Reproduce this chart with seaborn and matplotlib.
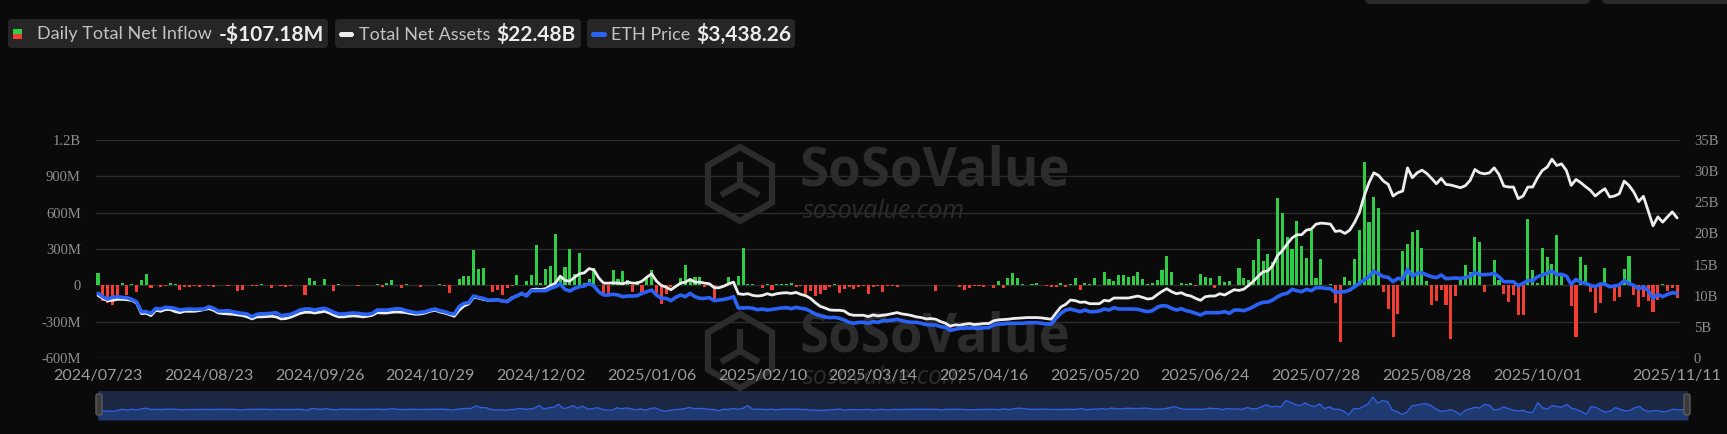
import numpy as np
import pandas as pd
import matplotlib
matplotlib.use("Agg")
import matplotlib.pyplot as plt
import seaborn as sns
from matplotlib.patches import FancyBboxPatch, RegularPolygon, Rectangle

# ---------------- DATA ----------------
START_DATE = "2024-07-23"
END_DATE = "2025-11-11"
MARKET_HOLIDAYS = ["2024-09-02", "2024-11-28", "2024-12-25", "2025-01-01", "2025-01-09",
                   "2025-01-20", "2025-02-17", "2025-04-18", "2025-05-26", "2025-06-19",
                   "2025-07-04", "2025-09-01"]

TICK_LABELS = ["2024/07/23", "2024/08/23", "2024/09/26", "2024/10/29", "2024/12/02",
               "2025/01/06", "2025/02/10", "2025/03/14", "2025/04/16", "2025/05/20",
               "2025/06/24", "2025/07/28", "2025/08/28", "2025/10/01", "2025/11/11"]

LEFT_TICKS = [-600, -300, 0, 300, 600, 900, 1200]
LEFT_LABELS = ["-600M", "-300M", "0", "300M", "600M", "900M", "1.2B"]
RIGHT_TICKS = [0, 5, 10, 15, 20, 25, 30, 35]
RIGHT_LABELS = ["0", "5B", "10B", "15B", "20B", "25B", "30B", "35B"]

# daily total net inflow, $M
NET_INFLOW = [
    99, -132, -146, -165, -99, 19, -77, 14, -55, 44,
    94, -22, 2, -16, -3, 19, 8, -38, -16, -16,
    -5, -16, 0, -6, -15, 0, 5, -3, 0, -47,
    -36, 2, -5, -5, 10, 0, -19, 0, -6, -15,
    -8, 3, 3, -77, 60, 38, 0, 55, 0, -50,
    14, 0, 5, 0, -5, 0, 3, 0, 14, -14,
    22, 47, 0, -19, 11, 0, 0, -14, 0, 3,
    3, 14, -8, -63, 0, 50, 77, 80, 294, 135,
    143, 0, -58, -36, -80, -25, -5, 85, 0, 36,
    88, 333, 22, 132, 162, 424, 66, 149, 303, 94,
    270, 19, 50, 143, 0, -63, -72, 127, 52, 116,
    41, -52, 38, -72, 72, 127, -77, -157, -69, -16,
    0, 58, 165, 47, 72, 72, -16, 0, -116, 5,
    0, 66, 5, 77, 308, 14, 8, 3, -19, 11,
    -38, 11, 11, 11, 19, -11, -3, -72, -50, -91,
    -69, -36, -16, 11, -63, -27, -16, -33, -16, -3,
    -72, -16, -3, -52, -8, -8, -16, 3, 2, 0,
    2, 3, 0, 2, -50, 0, 2, 0, 2, -11,
    -36, -22, -8, -8, -14, 0, -22, 38, -22, 60,
    102, 60, 14, 0, 8, 16, 0, -8, -16, -11,
    16, -16, 14, 63, -38, 19, 14, 63, 0, 107,
    52, 36, 82, 88, 66, 77, 107, 55, 11, 22,
    47, 124, 239, 110, 0, 16, 11, 19, -8, 96,
    72, 58, -25, 77, 30, 33, 0, 146, 60, 41,
    209, 382, 204, 256, 190, 723, 600, 402, 297, 534,
    327, 228, 454, 63, 217, 5, 8, -149, -465, 72,
    33, 217, 459, 1018, 520, 726, 638, -58, -195, -429,
    -237, 286, 338, 443, 454, 308, 39, -162, -132, -36,
    -165, -446, -91, 41, 165, 110, 402, 358, -58, 0,
    206, 47, -72, -138, -77, -245, -245, 545, 124, 20,
    305, 231, 179, 418, 88, 0, -173, -429, 231, 168,
    -58, -228, -146, 140, 3, -127, -94, 132, 245, -80,
    -182, -99, -132, -217, -118, 11, -44, -20, -107.18,
]

# total net assets, $B
NET_ASSETS = [
    10.05, 9.57, 9.20, 9.26, 9.41, 9.41, 9.36, 9.26, 8.83, 7.13,
    7.18, 6.81, 7.66, 7.50, 7.77, 7.77, 7.45, 7.29, 7.50, 7.50,
    7.50, 7.61, 7.77, 7.93, 7.66, 7.23, 7.13, 7.07, 7.02, 6.91,
    6.81, 6.60, 6.28, 6.60, 6.60, 6.65, 6.70, 6.60, 6.28, 6.33,
    6.54, 6.86, 7.18, 7.34, 7.34, 7.23, 7.34, 7.50, 7.23, 6.86,
    6.60, 6.60, 6.70, 6.76, 6.70, 6.60, 6.70, 6.86, 7.29, 7.23,
    7.23, 7.34, 7.39, 7.34, 7.29, 7.13, 7.02, 7.07, 7.23, 7.50,
    7.66, 7.39, 7.23, 6.97, 6.70, 7.66, 8.35, 8.67, 9.73, 9.63,
    9.41, 9.26, 9.26, 9.36, 9.15, 9.10, 9.68, 9.95, 10.32, 10.05,
    10.96, 11.06, 11.01, 11.12, 11.65, 12.02, 13.14, 12.45, 12.34, 12.98,
    13.51, 13.67, 14.36, 14.15, 12.87, 12.02, 12.02, 12.07, 12.02, 11.91,
    12.18, 12.02, 12.02, 12.34, 12.98, 13.51, 12.34, 11.65, 11.38, 10.96,
    11.49, 12.02, 12.18, 12.61, 12.18, 12.18, 12.02, 11.91, 11.28, 11.28,
    11.54, 11.91, 12.18, 10.32, 10.21, 10.32, 10.05, 9.95, 10.05, 10.32,
    10.11, 10.32, 10.43, 10.48, 10.37, 10.53, 10.21, 10.00, 9.57, 8.88,
    8.30, 8.03, 7.71, 7.66, 7.66, 7.55, 7.02, 6.86, 6.86, 6.86,
    6.65, 6.91, 6.76, 6.86, 6.97, 7.13, 7.29, 7.07, 6.97, 6.81,
    6.60, 6.49, 6.28, 6.33, 6.22, 5.85, 5.59, 5.11, 5.32, 5.27,
    5.43, 5.53, 5.37, 5.43, 5.53, 5.53, 5.96, 6.12, 6.17, 6.22,
    6.33, 6.38, 6.44, 6.49, 6.49, 6.49, 6.44, 6.33, 6.22, 7.23,
    8.19, 8.62, 9.31, 9.20, 8.94, 8.99, 8.72, 8.72, 8.72, 9.26,
    9.15, 9.63, 9.63, 9.63, 9.63, 9.79, 9.95, 9.73, 9.47, 9.57,
    10.16, 10.69, 11.12, 10.64, 10.32, 10.48, 10.11, 9.95, 9.57, 9.26,
    9.84, 9.95, 9.95, 10.32, 10.11, 10.53, 10.96, 10.85, 11.06, 11.65,
    12.34, 13.14, 13.83, 13.99, 14.84, 16.44, 17.23, 18.30, 19.26, 19.79,
    19.79, 20.53, 20.69, 21.49, 21.65, 21.60, 21.49, 20.32, 20.43, 20.00,
    20.53, 21.76, 23.35, 26.01, 28.14, 29.73, 29.31, 28.40, 27.87, 26.01,
    26.54, 26.81, 30.53, 28.94, 29.73, 30.16, 29.63, 28.83, 27.98, 28.83,
    27.87, 27.77, 27.55, 27.34, 27.66, 28.51, 30.27, 29.73, 29.57, 29.73,
    30.53, 29.47, 27.61, 27.45, 27.45, 25.59, 26.01, 27.45, 27.45, 28.94,
    30.11, 30.64, 31.91, 30.90, 31.17, 30.11, 27.71, 28.67, 28.14, 27.50,
    26.91, 26.01, 26.65, 27.18, 25.85, 26.01, 26.38, 28.40, 27.71, 26.65,
    25.11, 25.96, 23.62, 21.22, 22.66, 21.81, 22.66, 23.46, 22.48,
]

# ETH price, $
ETH_PRICE = [
    3440, 3262, 3138, 3227, 3262, 3227, 3209, 3121, 2996, 2465,
    2465, 2376, 2642, 2606, 2695, 2677, 2642, 2553, 2589, 2606,
    2589, 2606, 2606, 2730, 2642, 2500, 2500, 2518, 2465, 2411,
    2376, 2340, 2199, 2323, 2358, 2358, 2376, 2411, 2252, 2287,
    2323, 2429, 2553, 2606, 2606, 2553, 2606, 2642, 2553, 2429,
    2340, 2340, 2376, 2394, 2376, 2340, 2323, 2376, 2553, 2553,
    2553, 2589, 2624, 2606, 2518, 2465, 2411, 2429, 2465, 2553,
    2606, 2518, 2465, 2376, 2340, 2730, 2908, 2943, 3298, 3227,
    3174, 3085, 3085, 3085, 3032, 2996, 3174, 3316, 3440, 3298,
    3582, 3582, 3582, 3582, 3706, 3794, 3936, 3652, 3564, 3706,
    3794, 3830, 3972, 3830, 3528, 3351, 3351, 3387, 3351, 3262,
    3298, 3298, 3316, 3440, 3528, 3617, 3351, 3174, 3174, 3050,
    3227, 3351, 3262, 3440, 3262, 3174, 3174, 3209, 3050, 3085,
    3121, 3174, 3262, 2660, 2660, 2677, 2642, 2571, 2606, 2553,
    2589, 2624, 2660, 2677, 2624, 2695, 2642, 2606, 2482, 2340,
    2252, 2181, 2145, 2163, 2110, 2021, 1897, 1844, 1897, 1897,
    1844, 1933, 1897, 1986, 1986, 2021, 2057, 1986, 1933, 1897,
    1897, 1844, 1773, 1755, 1755, 1667, 1631, 1472, 1525, 1578,
    1596, 1596, 1596, 1578, 1613, 1613, 1755, 1809, 1809, 1844,
    1844, 1844, 1844, 1879, 1879, 1879, 1844, 1809, 1809, 2110,
    2376, 2553, 2606, 2535, 2465, 2553, 2465, 2465, 2500, 2606,
    2553, 2677, 2606, 2606, 2606, 2606, 2589, 2518, 2465, 2518,
    2695, 2784, 2766, 2642, 2553, 2624, 2518, 2465, 2376, 2287,
    2411, 2411, 2411, 2411, 2465, 2376, 2553, 2553, 2518, 2606,
    2730, 2872, 2961, 2979, 3085, 3262, 3387, 3440, 3652, 3582,
    3528, 3652, 3582, 3741, 3741, 3706, 3688, 3493, 3528, 3528,
    3617, 3794, 3972, 4149, 4326, 4628, 4468, 4326, 4291, 4060,
    4238, 4184, 4716, 4362, 4504, 4539, 4415, 4326, 4273, 4415,
    4220, 4238, 4255, 4238, 4273, 4362, 4557, 4433, 4433, 4450,
    4504, 4326, 4060, 4060, 4060, 3848, 3972, 4113, 4113, 4326,
    4415, 4504, 4628, 4450, 4450, 4362, 3918, 4184, 4025, 3972,
    3865, 3794, 3936, 3936, 3794, 3830, 3883, 4113, 3972, 3865,
    3670, 3794, 3582, 3174, 3387, 3262, 3387, 3475, 3438.26,
]

# ---------------- FRAME ----------------
dates = pd.bdate_range(START_DATE, END_DATE, freq="C", holidays=MARKET_HOLIDAYS)
df = pd.DataFrame({
    "day": np.arange(len(dates)),
    "date": dates,
    "inflow": NET_INFLOW,
    "assets": NET_ASSETS,
    "eth": ETH_PRICE,
})
df["sign"] = np.where(df["inflow"] >= 0, "in", "out")
tick_pos = [int(df.loc[df["date"] == pd.Timestamp(t.replace("/", "-")), "day"].iloc[0])
            for t in TICK_LABELS]

# ---------------- STYLE ----------------
W, H = 1727, 434
BG = "#0a0a0a"
GREEN = "#2fcc45"
RED = "#f23d33"
WHITE_LINE = "#ededed"
BLUE = "#2a62f5"
GRID = "#2b2b2b"
TICK = "#8e8e8e"
WM = "#2c2c2c"
BOX = "#262626"

sns.set_style("dark", {"axes.facecolor": "none", "figure.facecolor": BG})
plt.rcParams["font.family"] = ["Lato", "DejaVu Sans"]

fig = plt.figure(figsize=(W / 100, H / 100), dpi=100)
fig.patch.set_facecolor(BG)


def px_axes(left, top, right, bottom, **kw):
    return fig.add_axes([left / W, 1 - bottom / H, (right - left) / W, (bottom - top) / H], **kw)


# background overlay (watermark), pixel coordinates
back = px_axes(0, 0, W, H, zorder=-1)
back.set_xlim(0, W)
back.set_ylim(H, 0)
back.axis("off")

for dy in (0, 167):
    back.add_patch(RegularPolygon((740, 184 + dy), 6, radius=37, fill=False,
                                  edgecolor=WM, linewidth=4.5))
    for ang in (90, 210, 330):
        a = np.deg2rad(ang)
        back.plot([740, 740 + 22 * np.cos(a)], [184 + dy, 184 + dy - 22 * np.sin(a)],
                  color=WM, lw=4.5, solid_capstyle="butt")
    back.text(800, 171 + dy, "SoSoValue", fontsize=38, fontweight="bold",
              family="Open Sans", color=WM, va="center", ha="left")
    back.text(803, 211 + dy, "sosovalue.com", fontsize=18, style="italic",
              family="Open Sans", color=WM, va="center", ha="left")

# ---------------- MAIN CHART ----------------
ax = px_axes(96, 140, 1680, 358, zorder=0)
sns.barplot(data=df, x="day", y="inflow", hue="sign", hue_order=["in", "out"],
            palette={"in": GREEN, "out": RED}, dodge=False, native_scale=True,
            width=0.64, saturation=1, errorbar=None, legend=False,
            linewidth=0, edgecolor="none", ax=ax)

ax2 = ax.twinx()
sns.lineplot(data=df, x="day", y="assets", color=WHITE_LINE, linewidth=2.0, ax=ax2)
ax3 = ax.twinx()
sns.lineplot(data=df, x="day", y="eth", color=BLUE, linewidth=2.6, ax=ax3)

for a in (ax, ax2, ax3):
    for s in a.spines.values():
        s.set_visible(False)
    a.set_xlabel("")
    a.set_ylabel("")
    a.tick_params(length=0)
    a.grid(False)
    a.patch.set_visible(False)

ax.set_ylim(-600, 1200)
ax.set_yticks(LEFT_TICKS)
ax.set_yticklabels(LEFT_LABELS, family="Liberation Serif", fontsize=10.5, color=TICK)
ax.tick_params(axis="y", pad=11)
ax.yaxis.grid(True, color=GRID, linewidth=1)
ax.set_axisbelow(True)

ax.set_xticks(tick_pos)
ax.set_xticklabels(TICK_LABELS, fontsize=11.5, color="#9c9c9c")
ax.tick_params(axis="x", pad=8)

ax2.set_ylim(0, 35)
ax2.set_yticks(RIGHT_TICKS)
ax2.set_yticklabels(RIGHT_LABELS, family="Liberation Serif", fontsize=10.5, color=TICK)
ax2.tick_params(axis="y", pad=10)

ax3.set_ylim(0, 11600)
ax3.set_yticks([])

ax.set_xlim(-0.42, 328.6)

# ---------------- NAVIGATOR ----------------
nav = px_axes(98, 391, 1688, 420, zorder=1)
nav.set_facecolor("#1c2743")
nav.patch.set_visible(True)
nav.fill_between(df["day"], -880, df["inflow"], color="#1f3a70", linewidth=0)
sns.lineplot(data=df, x="day", y="inflow", color="#2d60dc", linewidth=1, ax=nav)
nav.set_ylim(-880, 1520)
nav.set_xlim(0, len(df) - 1)
nav.set_xticks([])
nav.set_yticks([])
nav.set_xlabel("")
nav.set_ylabel("")
for s in nav.spines.values():
    s.set_visible(False)

# ---------------- FRONT OVERLAY ----------------
front = px_axes(0, 0, W, H, zorder=5)
front.set_xlim(0, W)
front.set_ylim(H, 0)
front.axis("off")

for hx in (96, 1684):
    front.add_patch(FancyBboxPatch((hx, 394), 6, 21, boxstyle="round,pad=0,rounding_size=2",
                                   facecolor="#3a3a3a", edgecolor="#5c5c5c", linewidth=1))

for x0, x1 in ((1365, 1590), (1602, 1740)):
    front.add_patch(FancyBboxPatch((x0, -12), x1 - x0, 16, boxstyle="round,pad=0,rounding_size=5",
                                   facecolor="#2a2a2a", edgecolor="none"))

# legend chips
chips = [(8, 328), (335, 581), (587, 795)]
for x0, x1 in chips:
    front.add_patch(FancyBboxPatch((x0, 19), x1 - x0, 29, boxstyle="round,pad=0,rounding_size=4",
                                   facecolor=BOX, edgecolor="none"))

front.add_patch(Rectangle((13, 29), 9, 5, facecolor=GREEN, edgecolor="none"))
front.add_patch(Rectangle((13, 34), 9, 5, facecolor=RED, edgecolor="none"))
front.add_patch(FancyBboxPatch((339, 32), 15, 5, boxstyle="round,pad=0,rounding_size=2.5",
                               facecolor=WHITE_LINE, edgecolor="none"))
front.add_patch(FancyBboxPatch((591, 32), 16, 5, boxstyle="round,pad=0,rounding_size=2.5",
                               facecolor=BLUE, edgecolor="none"))

label_kw = dict(fontsize=13, color="#c2c2c2", va="center", ha="left")
value_kw = dict(fontsize=15, color="#ececec", fontweight="bold", va="center", ha="left")
front.text(37, 34.5, "Daily Total Net Inflow", **label_kw)
front.text(219, 34.5, "-$107.18M", **value_kw)
front.text(359, 34.5, "Total Net Assets", **label_kw)
front.text(496, 34.5, "$22.48B", **value_kw)
front.text(611, 34.5, "ETH Price", **label_kw)
front.text(696, 34.5, "$3,438.26", **value_kw)

fig.savefig("out.png", dpi=100, facecolor=BG)
